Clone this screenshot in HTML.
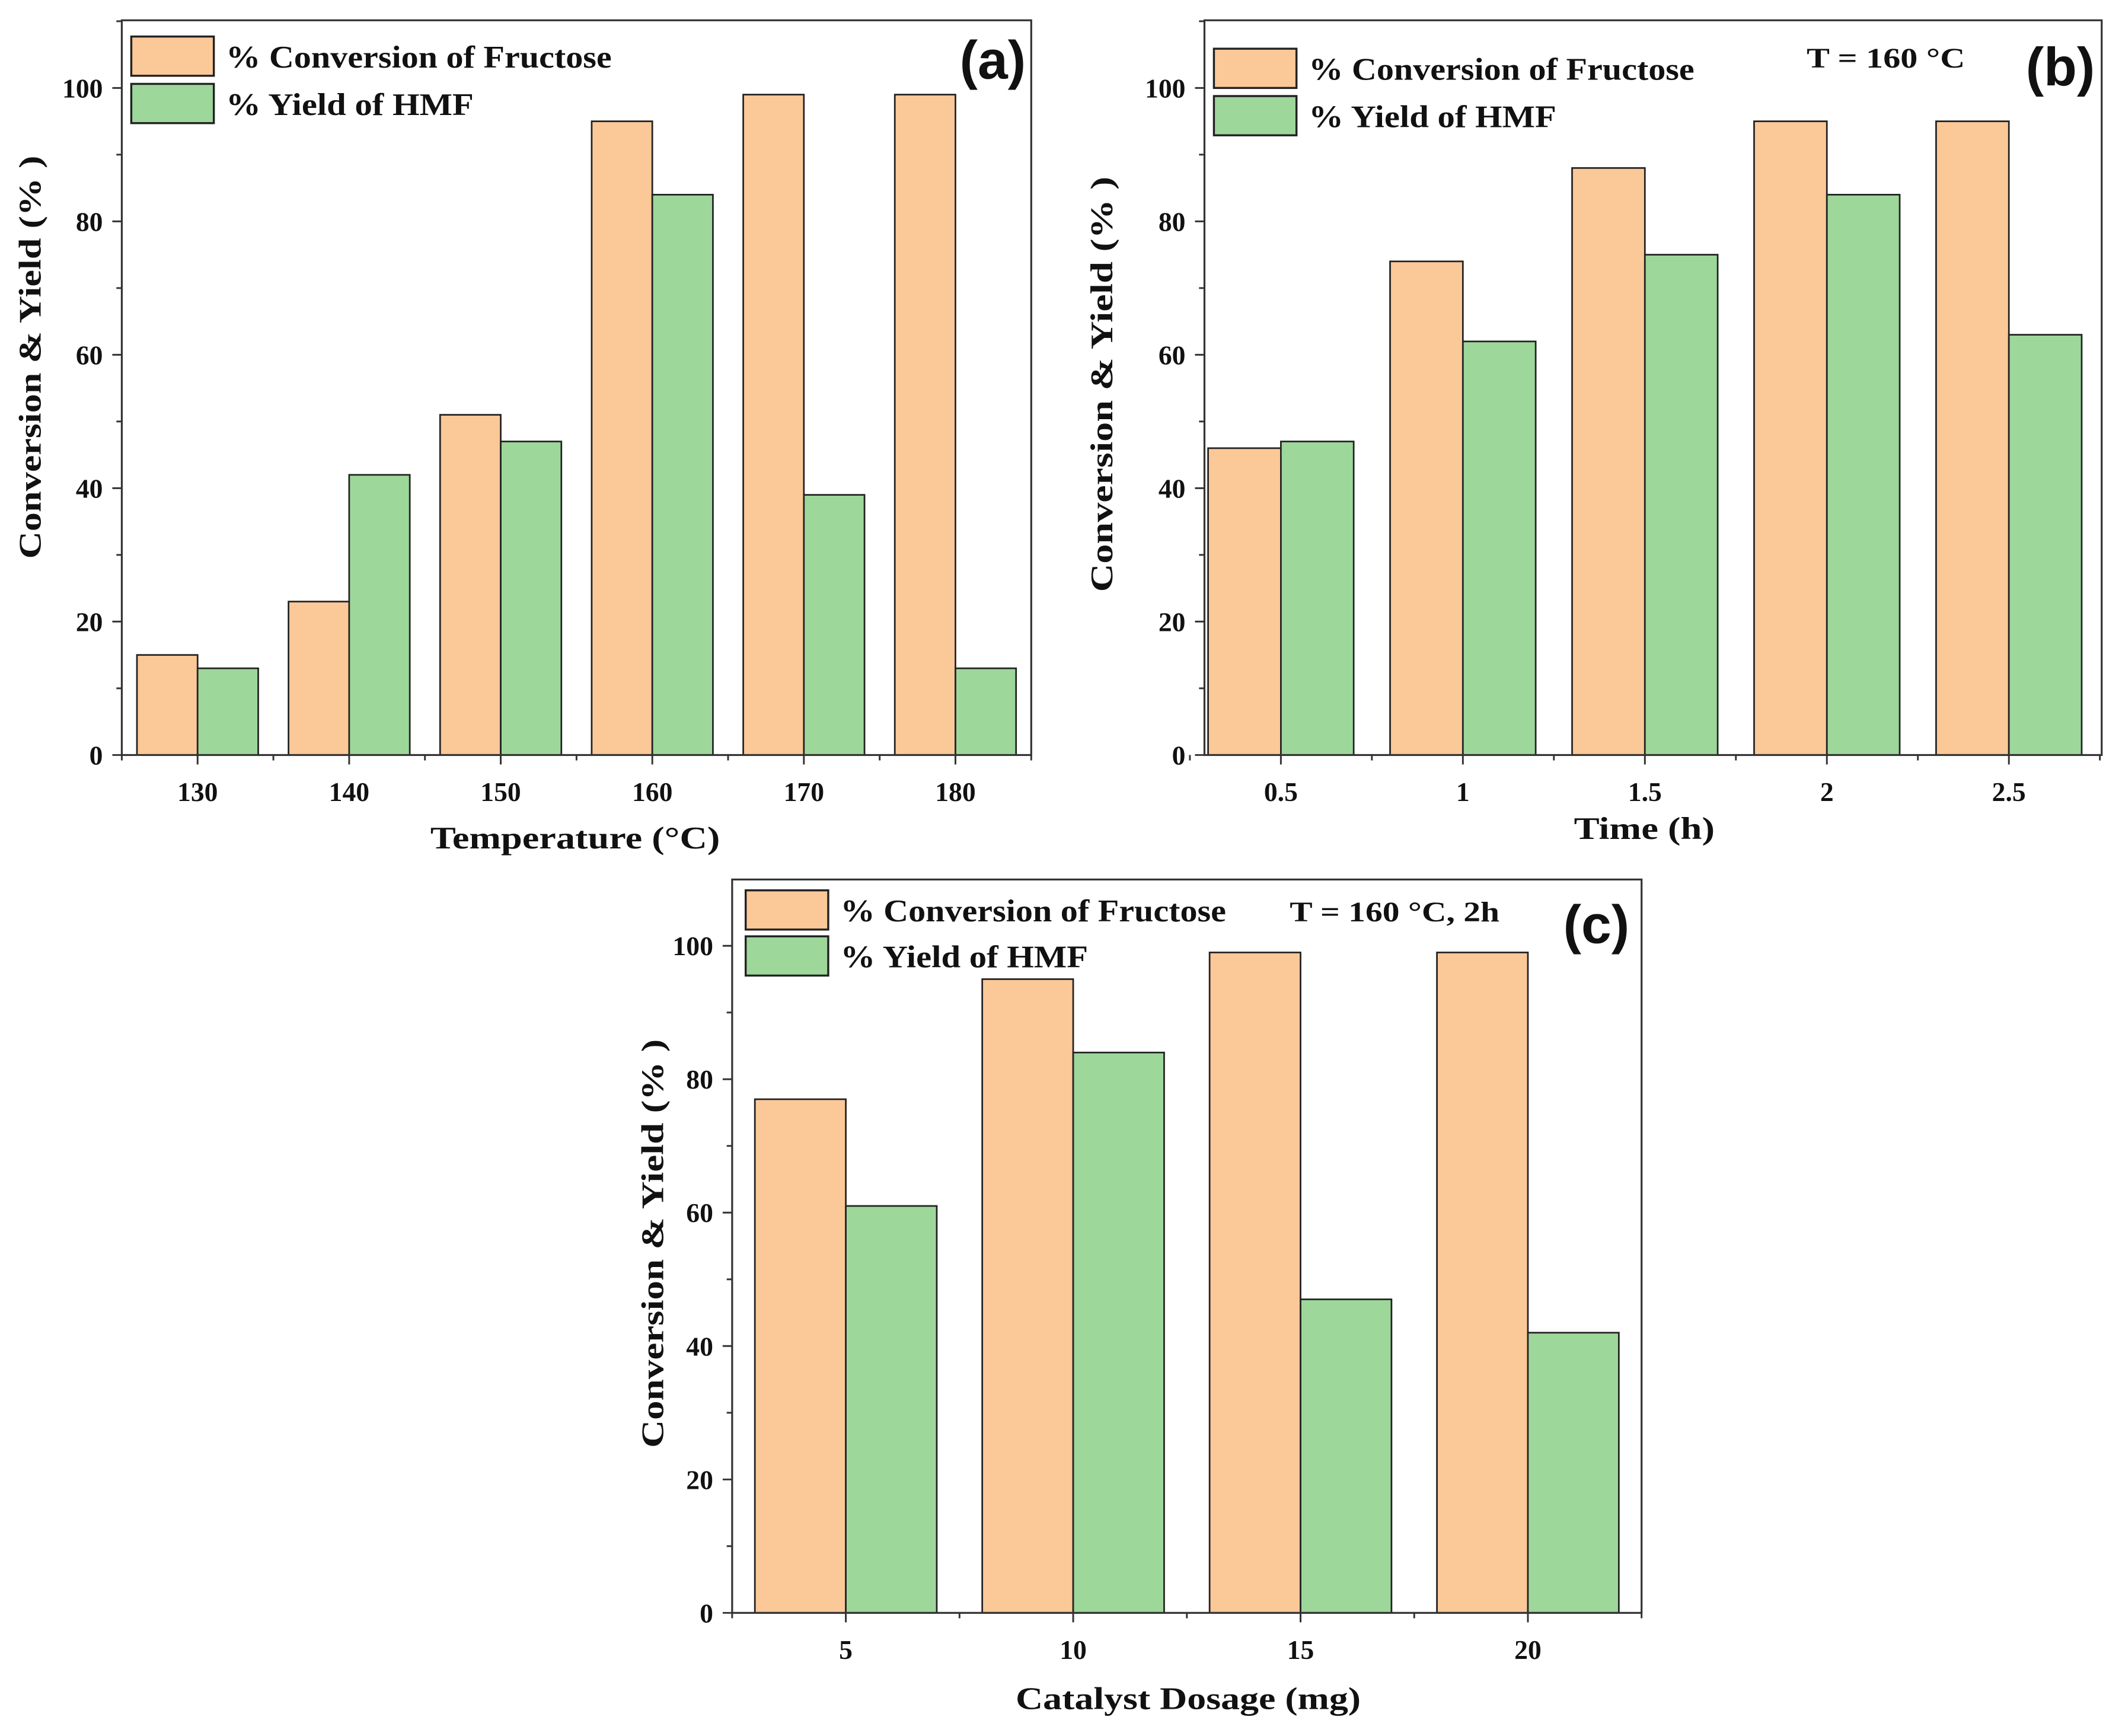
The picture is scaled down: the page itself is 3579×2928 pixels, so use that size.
<!DOCTYPE html>
<html><head><meta charset="utf-8"><style>
html,body{margin:0;padding:0;background:#fff;}
svg{display:block;}
text{font-family:"Liberation Serif",serif;font-weight:bold;fill:#111;}
.lab{font-family:"Liberation Sans",sans-serif;font-weight:bold;}
</style></head><body>
<svg id="fig" width="3579" height="2928" viewBox="0 0 1568 1283" preserveAspectRatio="none" xmlns="http://www.w3.org/2000/svg"></svg>
<script>
const catsA = ["130","140","150","160","170","180"];
const convA = [15,23,51,95,99,99];
const yieldA = [13,42,47,84,39,13];
const catsB = ["0.5","1","1.5","2","2.5"];
const convB = [46,74,88,95,95];
const yieldB = [47,62,75,84,63];
const catsC = ["5","10","15","20"];
const convC = [77,95,99,99];
const yieldC = [61,84,47,42];
const yTicks = [0,20,40,60,80,100];

const NS="http://www.w3.org/2000/svg";
const svg=document.getElementById('fig');
function mk(tag,attrs,parent,txt){const e=document.createElementNS(NS,tag);for(const k in attrs)e.setAttribute(k,attrs[k]);if(txt!==undefined)e.textContent=txt;(parent||svg).appendChild(e);return e;}
const ORANGE="#fbc898",GREEN="#9dd79a";

function panel(p){
  const g=mk('g',{});
  
  
  const L=p.L,R=p.R,T=p.T,B=p.B;
  const ymax=(B-T)/p.pxPer100*100;
  const ys=v=>B-(v/ymax)*(B-T);
  const n=p.cats.length;
  const xs=i=>L+(i-p.xmin)/(p.xmax-p.xmin)*(R-L);
  const sp=xs(1)-xs(0);
  for(let i=0;i<n;i++){
    const c=xs(i);
    const b1=mk('rect',{x:c-0.4*sp,y:ys(p.conv[i]),width:0.4*sp,height:B-ys(p.conv[i]),fill:ORANGE,stroke:'#222','stroke-width':1.2},g);
    
    
    const b2=mk('rect',{x:c,y:ys(p.yld[i]),width:0.4*sp,height:B-ys(p.yld[i]),fill:GREEN,stroke:'#222','stroke-width':1.2},g);
    
    
  }
  const fr=mk('rect',{x:L,y:T,width:R-L,height:B-T,fill:'none',stroke:'#333','stroke-width':1.4},g);
  
  
  for(let v=0;v<=ymax;v+=10){
    const major=v%20===0;
    mk('line',{x1:L,x2:L-(major?7:4),y1:ys(v),y2:ys(v),stroke:'#333','stroke-width':1.3},g);
  }
  yTicks.forEach(v=>{
    const t=mk('text',{x:L-14,y:ys(v)+7,'text-anchor':'end','font-size':20},g,String(v));
    
    
  });
  for(let i=0;i<n;i++){
    mk('line',{x1:xs(i),x2:xs(i),y1:B,y2:B+7,stroke:'#333','stroke-width':1.3},g);
    mk('line',{x1:xs(i+0.5),x2:xs(i+0.5),y1:B,y2:B+4,stroke:'#333','stroke-width':1.3},g);
    if(i===0) mk('line',{x1:xs(-0.5),x2:xs(-0.5),y1:B,y2:B+4,stroke:'#333','stroke-width':1.3},g);
    const t=mk('text',{x:xs(i),y:B+34,'text-anchor':'middle','font-size':20},g,p.cats[i]);
    
    
  }
  const xt=mk('text',{x:p.xt[0],y:p.xt[1],'text-anchor':'middle','font-size':23,textLength:p.xt[2],lengthAdjust:'spacingAndGlyphs'},g,p.xtitle);
  
  
  const yt=mk('text',{x:0,y:0,'text-anchor':'middle','font-size':23,textLength:p.yt[2],lengthAdjust:'spacingAndGlyphs',transform:`translate(${p.yt[0]},${p.yt[1]}) rotate(-90)`},g,'Conversion & Yield (% )');
  
  
  const lg=p.lg;
  const s1=mk('rect',{x:lg.x,y:lg.y1,width:61,height:29,fill:ORANGE,stroke:'#222','stroke-width':1.5},g);
  
  
  const s2=mk('rect',{x:lg.x,y:lg.y2,width:61,height:29,fill:GREEN,stroke:'#222','stroke-width':1.5},g);
  
  
  const l1=mk('text',{x:lg.x+70,y:lg.y1+23,'font-size':23,textLength:285,lengthAdjust:'spacingAndGlyphs'},g,'% Conversion of Fructose');
  
  
  const l2=mk('text',{x:lg.x+70,y:lg.y2+23,'font-size':23,textLength:183,lengthAdjust:'spacingAndGlyphs'},g,'% Yield of HMF');
  
  
  if(p.note){
    const nt=mk('text',{x:p.note[0],y:p.note[1],'font-size':21,textLength:p.note[2],lengthAdjust:'spacingAndGlyphs'},g,p.note[3]);
    
    
  }
  const pl=mk('text',{x:p.lab[0],y:p.lab[1],'font-size':40,'class':'lab','text-anchor':'end'},g,p.lab[2]);
  
  
}

panel({id:'a',L:90,R:762,T:15,B:558,pxPer100:493,xmin:-0.5,xmax:5.5,cats:catsA,conv:convA,yld:yieldA,
  xtitle:'Temperature (°C)',xt:[425,627,214],yt:[30,264,298],lg:{x:97,y1:27,y2:62},lab:[758,58,'(a)']});
panel({id:'b',L:890,R:1553,T:15,B:558,pxPer100:493,xmin:-0.42,xmax:4.51,cats:catsB,conv:convB,yld:yieldB,
  xtitle:'Time (h)',xt:[1215,620,104],yt:[822,284,307],lg:{x:897,y1:36,y2:71},
  note:[1335,50,117,'T = 160 °C'],lab:[1548,63,'(b)']});
panel({id:'c',L:541,R:1213,T:650,B:1192,pxPer100:493,xmin:-0.5,xmax:3.5,cats:catsC,conv:convC,yld:yieldC,
  xtitle:'Catalyst Dosage (mg)',xt:[878,1263,255],yt:[490,919,302],lg:{x:551,y1:658,y2:692},
  note:[953,681,155,'T = 160 °C, 2h'],lab:[1204,697,'(c)']});
</script>
</body></html>
